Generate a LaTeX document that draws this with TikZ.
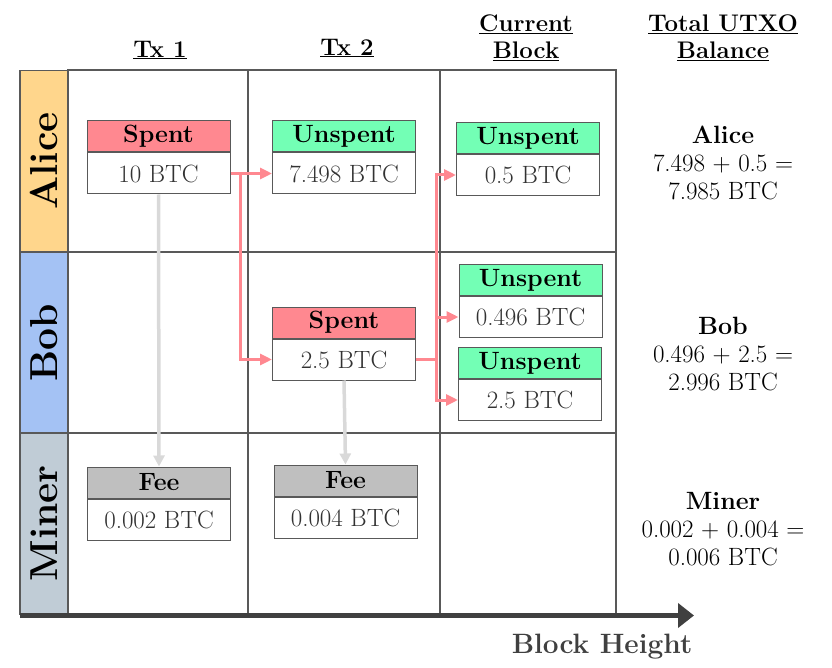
\documentclass[tikz,border=0pt]{standalone}
\usepackage{fontspec}
\usepackage{xcolor}
\usepackage{tikz}
\usetikzlibrary{positioning}
\usetikzlibrary{arrows.meta}

\definecolor{gridline}{RGB}{89,89,89}
\definecolor{alicebar}{RGB}{255,214,140}
\definecolor{bobbar}{RGB}{164,194,244}
\definecolor{minerbar}{RGB}{192,204,214}
\definecolor{spentred}{RGB}{255,136,144}
\definecolor{unspentgreen}{RGB}{115,255,181}
\definecolor{feegrey}{RGB}{191,191,191}
\definecolor{bodytext}{RGB}{50,50,50}
\definecolor{feearrow}{RGB}{217,217,217}
\definecolor{axisgrey}{RGB}{64,64,64}

\begin{document}
\begin{tikzpicture}[x=1pt, y=-1pt,
        font=\fontsize{25}{28}\selectfont,
        node distance=0pt,
        bar/.style={draw=gridline, line width=1.2pt, rotate=90, minimum width=181pt,
            minimum height=48pt, inner sep=0pt, font=\fontsize{39}{42}\selectfont\bfseries},
        hdr/.style={draw=gridline, line width=1pt, minimum width=143pt, minimum height=31pt,
            inner sep=0pt, font=\fontsize{25}{28}\selectfont\bfseries},
        body/.style={draw=gridline, line width=1pt, fill=white, minimum width=143pt,
            minimum height=41pt, inner sep=0pt, text=bodytext},
        colhead/.style={align=center, font=\fontsize{24}{27}\selectfont\bfseries},
        total/.style={align=center},
        flow/.style={draw=spentred, line width=3pt, -{Triangle[length=12pt, width=11pt]}},
        fee/.style={draw=feearrow, line width=3.5pt, -{Triangle[length=11pt, width=11pt]}}]
        \useasboundingbox (0, 0) rectangle (832, 668);

        % grid
        \draw[draw=gridline, line width=1.2pt] (68, 70) rectangle (616, 614);
        \draw[draw=gridline, line width=1.2pt] (248, 70) -- (248, 614);
        \draw[draw=gridline, line width=1.2pt] (440, 70) -- (440, 614);
        \draw[draw=gridline, line width=1.2pt] (68, 252) -- (616, 252);
        \draw[draw=gridline, line width=1.2pt] (68, 433) -- (616, 433);

        % rows
        \node[bar, fill=alicebar] (alice) at (44, 161) {Alice};
        \node[bar, fill=bobbar] (bob) at (44, 342.5) {Bob};
        \node[bar, fill=minerbar] (miner) at (44, 523.5) {Miner};

        % columns
        \node[colhead] (tx1) at (160, 50) {\underline{Tx 1}};
        \node[colhead] (tx2) at (347, 48) {\underline{Tx 2}};
        \node[colhead] (cur) at (526, 38) {\underline{Current}\\\underline{Block}};
        \node[colhead] (tot) at (723, 38) {\underline{Total UTXO}\\\underline{Balance}};

        % outputs
        \node[hdr, fill=spentred] (h1) at (158.5, 136.5) {Spent};
        \node[body, below=of h1] (b1) {10 BTC};
        \node[hdr, fill=unspentgreen] (h2) at (344, 136.5) {Unspent};
        \node[body, below=of h2] (b2) {7.498 BTC};
        \node[hdr, fill=unspentgreen] (h3) at (528, 138) {Unspent};
        \node[body, below=of h3] (b3) {0.5 BTC};
        \node[hdr, fill=unspentgreen] (h4) at (530.5, 280) {Unspent};
        \node[body, below=of h4] (b4) {0.496 BTC};
        \node[hdr, fill=unspentgreen] (h5) at (530, 363) {Unspent};
        \node[body, below=of h5] (b5) {2.5 BTC};
        \node[hdr, fill=spentred] (hs) at (344, 322.5) {Spent};
        \node[body, below=of hs] (bs) {2.5 BTC};
        \node[hdr, fill=feegrey] (hf1) at (159, 482.5) {Fee};
        \node[body, below=of hf1] (bf1) {0.002 BTC};
        \node[hdr, fill=feegrey] (hf2) at (345.5, 480.5) {Fee};
        \node[body, below=of hf2] (bf2) {0.004 BTC};

        % spending
        \coordinate (j1) at ([xshift=10pt]b1.east);
        \coordinate (j2) at ([xshift=20pt]bs.east);
        \draw[flow] (b1.east) -- (b2.west);
        \draw[flow] (j1) |- (bs.west);
        \draw[draw=spentred, line width=3pt] (bs.east) -- (j2);
        \draw[flow] (j2) |- (b3.west);
        \draw[flow] (j2) |- (b4.west);
        \draw[flow] (j2) |- (b5.west);
        \draw[fee] (b1.south) -- (hf1.north);
        \draw[fee] (bs.south) -- (hf2.north);

        % totals
        \node[total] (alicetot) at (723, 163) {\textbf{Alice}\\7.498 + 0.5 =\\7.985 BTC};
        \node[total] (bobtot) at (723, 354) {\textbf{Bob}\\0.496 + 2.5 =\\2.996 BTC};
        \node[total] (minertot) at (723, 529) {\textbf{Miner}\\0.002 + 0.004 =\\0.006 BTC};

        % axis
        \coordinate (axstart) at (20, 615.5);
        \coordinate (axend) at (694, 615.5);
        \draw[draw=axisgrey, line width=5pt, -{Triangle[length=16pt, width=24pt]}] (axstart) -- (axend);
        \node[text=axisgrey, font=\fontsize{28}{30}\selectfont\bfseries] (height) at (602, 647) {Block Height};
\end{tikzpicture}
\end{document}
